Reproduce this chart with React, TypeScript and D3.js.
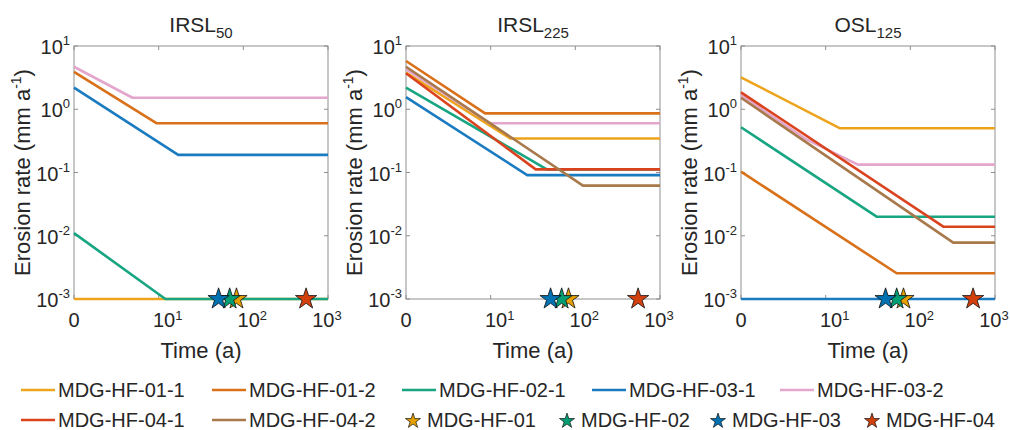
import React from 'react';
import * as d3 from 'd3';

// sample names, in plotting order
const seriesNames = ['MDG-HF-01-1', 'MDG-HF-01-2', 'MDG-HF-02-1', 'MDG-HF-03-1', 'MDG-HF-03-2', 'MDG-HF-04-1', 'MDG-HF-04-2'];
const seriesColors = ['#EDA41C', '#D9711A', '#17A582', '#1B7BC0', '#E3A6CC', '#D9441E', '#A8794B'];

// site markers (time in a)
const siteNames = ['MDG-HF-01', 'MDG-HF-02', 'MDG-HF-03', 'MDG-HF-04'];
const siteColors = ['#E69F00', '#009E73', '#0072B2', '#D2400E'];
const siteTimes = [82, 68, 50, 550];

// [time (a), erosion rate (mm/a)] knots, null = not measured
const irsl50 = [
  [[0, 0.001], [999, 0.001]],
  [[0, 3.9], [8.5, 0.6], [999, 0.6]],
  [[0, 0.011], [11, 0.001], [999, 0.001]],
  [[0, 2.2], [16, 0.19], [999, 0.19]],
  [[0, 4.7], [3.9, 1.52], [999, 1.52]],
  null,
  null,
];
const irsl225 = [
  [[0, 3.8], [16, 0.345], [999, 0.345]],
  [[0, 5.8], [7.6, 0.86], [999, 0.86]],
  [[0, 2.2], [45, 0.112], [999, 0.112]],
  [[0, 1.55], [26, 0.091], [999, 0.091]],
  [[0, 4.3], [8.8, 0.6], [999, 0.6]],
  [[0, 3.7], [33, 0.112], [999, 0.112]],
  [[0, 4.7], [122, 0.062], [999, 0.062]],
];
const osl125 = [
  [[0, 3.2], [13.8, 0.5], [999, 0.5]],
  [[0, 0.103], [68, 0.00255], [999, 0.00255]],
  [[0, 0.52], [39, 0.02], [999, 0.02]],
  [[0, 0.001], [999, 0.001]],
  [[0, 1.68], [5, 0.33], [23, 0.133], [999, 0.133]],
  [[0, 1.85], [244, 0.0139], [999, 0.0139]],
  [[0, 1.52], [320, 0.0078], [999, 0.0078]],
];

const panelTitles = [['IRSL', '50'], ['IRSL', '225'], ['OSL', '125']];
const panelData = [irsl50, irsl225, osl125];

const yTicks = [1e-3, 1e-2, 1e-1, 1, 10];
const yTickExp = ['-3', '-2', '-1', '0', '1'];
// x axis is log(t + 1), so "0" sits at 1
const xTicks = [1, 10, 100, 1000];
const xTickLabels = [['0', ''], ['10', '1'], ['10', '2'], ['10', '3']];

const FONT = '"Liberation Sans", Arial, sans-serif';
const TXT = '#262626';
const BOX = '#8f8f8f';

const panelLeft = [74, 406, 741];
const plotW = 254, plotH = 253, plotTop = 46;

const xScale = d3.scaleLog().domain([1, 1000]).range([0, plotW]);
const yScale = d3.scaleLog().domain([1e-3, 10]).range([plotH, 0]);

const line = d3.line<number[]>()
  .x(d => xScale(d[0] + 1))
  .y(d => yScale(d[1]));

const star = (size: number) => d3.symbol(d3.symbolStar, size)();

function Panel({ idx }: { idx: number }) {
  const data = panelData[idx];
  const [main, sub] = panelTitles[idx];
  return (
    <g transform={`translate(${panelLeft[idx]},${plotTop})`}>
      <text x={plotW / 2} y={-14} textAnchor="middle" fontSize={21} fill={TXT}>
        {main}<tspan fontSize={15} dy={6}>{sub}</tspan>
      </text>
      <rect x={0} y={0} width={plotW} height={plotH} fill="none" stroke={BOX} strokeWidth={1} />
      {yTicks.map((v, i) => (
        <g key={v}>
          <line x1={0} x2={4} y1={yScale(v)} y2={yScale(v)} stroke={BOX} />
          <line x1={plotW - 4} x2={plotW} y1={yScale(v)} y2={yScale(v)} stroke={BOX} />
          <text x={-4} y={yScale(v) + 8} textAnchor="end" fontSize={20} fill={TXT}>
            10<tspan fontSize={13} dy={-9}>{yTickExp[i]}</tspan>
          </text>
        </g>
      ))}
      {xTicks.map((v, i) => (
        <g key={v}>
          <line x1={xScale(v)} x2={xScale(v)} y1={0} y2={4} stroke={BOX} />
          <line x1={xScale(v)} x2={xScale(v)} y1={plotH - 4} y2={plotH} stroke={BOX} />
          <text x={xScale(v) + (i === 0 ? 0 : i === 3 ? -1 : 9)} y={plotH + 28} textAnchor="middle" fontSize={20} fill={TXT}>
            {xTickLabels[i][0]}<tspan fontSize={13} dy={-7}>{xTickLabels[i][1]}</tspan>
          </text>
        </g>
      ))}
      <text transform={`translate(-44,${plotH / 2}) rotate(-90)`} textAnchor="middle" fontSize={22} fill={TXT}>
        Erosion rate (mm a<tspan fontSize={14} dy={-9}>-1</tspan><tspan dy={9}>)</tspan>
      </text>
      <text x={plotW / 2} y={plotH + 59} textAnchor="middle" fontSize={22} fill={TXT}>Time (a)</text>
      {data.map((s, i) => s && (
        <path key={i} d={line(s as number[][]) || ''} fill="none" stroke={seriesColors[i]}
          strokeWidth={2.6} strokeLinejoin="round" />
      ))}
      {siteTimes.map((t, i) => (
        <path key={i} d={star(140) || ''} transform={`translate(${xScale(t + 1)},${yScale(0.001)})`}
          fill={siteColors[i]} stroke="#111" strokeWidth={0.8} />
      ))}
    </g>
  );
}

// legend layout: [row, x of swatch]
const legendLines = [[0, 21], [0, 212], [0, 402], [0, 592], [0, 780], [1, 21], [1, 212]];
const legendStars = [413, 567, 718, 872];
const rowY = [390, 420];

export default function App() {
  return (
    <svg width={1010} height={430} style={{ position: 'absolute', left: 0, top: 0, background: '#fff' }}
      fontFamily={FONT}>
      {panelTitles.map((_, i) => <Panel key={i} idx={i} />)}
      <g>
        {seriesNames.map((name, i) => {
          const [row, x] = legendLines[i];
          return (
            <g key={name}>
              <line x1={x} x2={x + 34} y1={rowY[row]} y2={rowY[row]} stroke={seriesColors[i]} strokeWidth={2.6} />
              <text x={x + 37} y={rowY[row] + 7} fontSize={20} fill={TXT}>{name}</text>
            </g>
          );
        })}
        {siteNames.map((name, i) => (
          <g key={name}>
            <path d={star(70) || ''} transform={`translate(${legendStars[i]},${rowY[1] + 1})`}
              fill={siteColors[i]} stroke="#111" strokeWidth={0.7} />
            <text x={legendStars[i] + 14} y={rowY[1] + 7} fontSize={20} fill={TXT}>{name}</text>
          </g>
        ))}
      </g>
    </svg>
  );
}
